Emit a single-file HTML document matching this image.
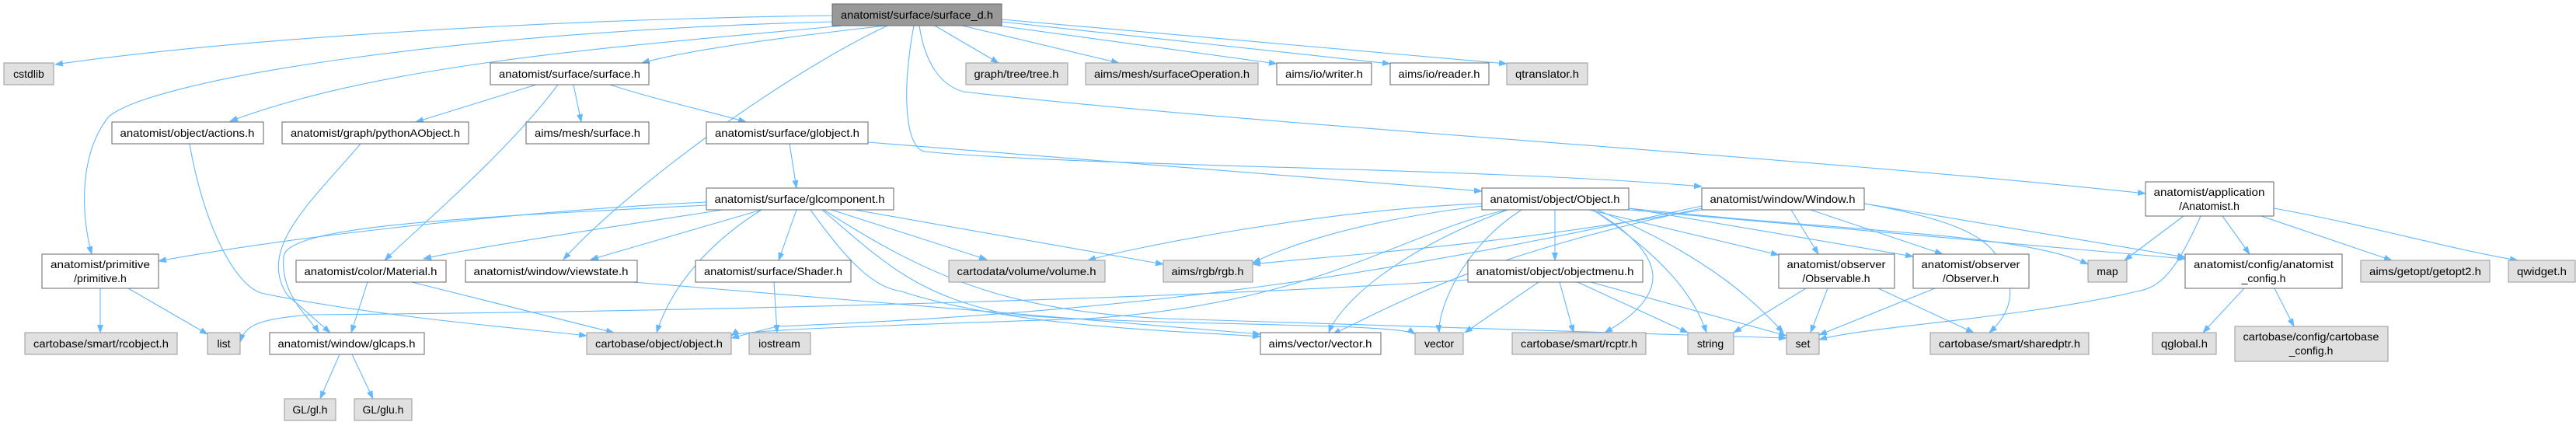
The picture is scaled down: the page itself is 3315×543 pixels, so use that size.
<!DOCTYPE html>
<html><head><meta charset="utf-8"><style>
html,body{margin:0;padding:0;background:#fff;}
svg{display:block;}
text{font-family:"Liberation Sans",sans-serif;font-size:14px;fill:#000;text-anchor:middle;}
.w{fill:#fff;stroke:#666;stroke-width:1;}
.g{fill:#e0e0e0;stroke:#999;stroke-width:1;}
.r{fill:#999;stroke:#666;stroke-width:1;}
path.e{fill:none;stroke:#63b8ff;stroke-width:1.1;marker-end:url(#a);}
</style></head><body>
<svg width="3315" height="543" viewBox="0 0 3315 543" xmlns="http://www.w3.org/2000/svg">
<defs><marker id="a" markerUnits="userSpaceOnUse" markerWidth="11" markerHeight="8" refX="10" refY="4" orient="auto"><path d="M0,0 L11,4 L0,8 z" fill="#63b8ff"/></marker></defs>
<g>
<path class="e" d="M1071,20 C700,25 300,50 71,83"/>
<path class="e" d="M1071,28 C600,40 200,100 140,150 C100,200 105,280 118,327"/>
<path class="e" d="M1085,33 C800,60 500,80 296,156"/>
<path class="e" d="M1140,33 Q900,60 826,81"/>
<path class="e" d="M1142,33 C1000,100 800,250 725,334"/>
<path class="e" d="M1203,33 L1285,81"/>
<path class="e" d="M1238,33 L1440,81"/>
<path class="e" d="M1285,33 L1643,82"/>
<path class="e" d="M1289,28 L1789,82"/>
<path class="e" d="M1289,25 L1939,82"/>
<path class="e" d="M1176,33 C1160,120 1165,190 1190,195 C1400,215 1900,215 2190,240"/>
<path class="e" d="M1183,33 C1190,80 1210,110 1240,118 C1600,160 2300,200 2761,249"/>
<path class="e" d="M1117,183 L1907,246"/>
<path class="e" d="M785,109 C850,130 920,145 960,157"/>
<path class="e" d="M690,109 L535,157"/>
<path class="e" d="M738,109 L748,157"/>
<path class="e" d="M718,109 C650,200 530,300 495,335"/>
<path class="e" d="M244,185 C260,280 300,370 340,378 C500,410 700,425 755,432"/>
<path class="e" d="M464,185 C400,260 330,320 370,380 L425,428"/>
<path class="e" d="M1016,185 L1025,242"/>
<path class="e" d="M909,260 C700,270 400,300 204,336"/>
<path class="e" d="M930,270 C800,290 600,320 545,333"/>
<path class="e" d="M980,270 L760,334"/>
<path class="e" d="M909,264 C600,280 370,290 365,330 C360,380 400,410 410,428"/>
<path class="e" d="M980,270 C900,320 860,380 845,428"/>
<path class="e" d="M1025,270 L1002,335"/>
<path class="e" d="M1070,270 L1270,334"/>
<path class="e" d="M1100,270 L1497,340"/>
<path class="e" d="M1043,270 C1100,350 1130,370 1160,375 C1300,420 1500,425 1622,433"/>
<path class="e" d="M1058,270 C1140,340 1180,380 1300,405 C1500,420 1800,415 1821,430"/>
<path class="e" d="M1060,270 C1200,360 1300,400 1500,410 L2299,435"/>
<path class="e" d="M473,363 L452,428"/>
<path class="e" d="M530,363 L790,428"/>
<path class="e" d="M815,363 C1000,380 1400,410 1622,430"/>
<path class="e" d="M129,371 L129,428"/>
<path class="e" d="M165,371 L267,430"/>
<path class="e" d="M437,456 L412,513"/>
<path class="e" d="M453,456 L480,513"/>
<path class="e" d="M996,363 L1000,428"/>
<path class="e" d="M2001,270 L2001,335"/>
<path class="e" d="M1907,262 C1700,270 1450,320 1400,335"/>
<path class="e" d="M1907,265 C1700,290 1620,335 1612,338"/>
<path class="e" d="M1940,270 C1800,300 1700,390 1400,410 C1100,420 950,425 941,432"/>
<path class="e" d="M1940,270 C1780,330 1720,400 1710,428"/>
<path class="e" d="M1958,270 C1880,320 1850,400 1852,428"/>
<path class="e" d="M2050,270 C2150,330 2150,380 2065,428"/>
<path class="e" d="M2050,270 C2140,330 2180,380 2196,428"/>
<path class="e" d="M2055,270 C2200,330 2260,390 2295,428"/>
<path class="e" d="M2045,270 L2289,328"/>
<path class="e" d="M2096,268 L2462,330"/>
<path class="e" d="M2096,270 L2812,333"/>
<path class="e" d="M2096,268 C2400,300 2600,300 2687,340"/>
<path class="e" d="M1889,360 C1600,380 1000,400 400,405 C330,410 315,420 309,440"/>
<path class="e" d="M2305,270 L2340,327"/>
<path class="e" d="M2330,270 L2500,327"/>
<path class="e" d="M2190,268 C1900,330 1800,390 1715,430"/>
<path class="e" d="M2190,265 C1800,350 1500,400 1000,420 L941,435"/>
<path class="e" d="M2190,270 C1900,320 1700,330 1612,340"/>
<path class="e" d="M2399,262 C2500,280 2560,300 2575,340 C2600,380 2580,410 2560,428"/>
<path class="e" d="M2399,262 L2812,331"/>
<path class="e" d="M1980,363 L1885,428"/>
<path class="e" d="M2007,363 L2025,428"/>
<path class="e" d="M2030,363 L2172,428"/>
<path class="e" d="M2047,363 L2299,432"/>
<path class="e" d="M2324,371 L2231,428"/>
<path class="e" d="M2352,371 L2330,428"/>
<path class="e" d="M2417,371 L2540,428"/>
<path class="e" d="M2490,371 L2341,431"/>
<path class="e" d="M2810,278 L2734,335"/>
<path class="e" d="M2860,278 L2895,327"/>
<path class="e" d="M2910,278 L3078,335"/>
<path class="e" d="M2926,268 C3050,290 3150,320 3240,335"/>
<path class="e" d="M2832,278 C2800,350 2780,370 2750,375 C2600,410 2400,420 2341,437"/>
<path class="e" d="M2888,371 L2835,428"/>
<path class="e" d="M2927,371 L2952,420"/>
</g>
<g>
<rect class="r" x="1071" y="5" width="218" height="28"/><text x="1180" y="24" textLength="196" lengthAdjust="spacingAndGlyphs">anatomist/surface/surface_d.h</text>
<rect class="g" x="5" y="81" width="64" height="28"/><text x="37" y="100">cstdlib</text>
<rect class="w" x="631" y="81" width="204" height="28"/><text x="733" y="100" textLength="182" lengthAdjust="spacingAndGlyphs">anatomist/surface/surface.h</text>
<rect class="g" x="1243" y="81" width="131" height="28"/><text x="1308" y="100" textLength="109" lengthAdjust="spacingAndGlyphs">graph/tree/tree.h</text>
<rect class="g" x="1397" y="81" width="222" height="28"/><text x="1508" y="100" textLength="200" lengthAdjust="spacingAndGlyphs">aims/mesh/surfaceOperation.h</text>
<rect class="w" x="1643" y="81" width="122" height="28"/><text x="1704" y="100" textLength="100" lengthAdjust="spacingAndGlyphs">aims/io/writer.h</text>
<rect class="w" x="1789" y="81" width="127" height="28"/><text x="1852" y="100" textLength="105" lengthAdjust="spacingAndGlyphs">aims/io/reader.h</text>
<rect class="g" x="1939" y="81" width="104" height="28"/><text x="1991" y="100" textLength="82" lengthAdjust="spacingAndGlyphs">qtranslator.h</text>
<rect class="w" x="144" y="157" width="195" height="28"/><text x="241" y="176" textLength="173" lengthAdjust="spacingAndGlyphs">anatomist/object/actions.h</text>
<rect class="w" x="363" y="157" width="240" height="28"/><text x="483" y="176" textLength="218" lengthAdjust="spacingAndGlyphs">anatomist/graph/pythonAObject.h</text>
<rect class="w" x="677" y="157" width="158" height="28"/><text x="756" y="176" textLength="136" lengthAdjust="spacingAndGlyphs">aims/mesh/surface.h</text>
<rect class="w" x="909" y="157" width="208" height="28"/><text x="1013" y="176" textLength="186" lengthAdjust="spacingAndGlyphs">anatomist/surface/globject.h</text>
<rect class="w" x="909" y="242" width="241" height="28"/><text x="1029" y="261" textLength="219" lengthAdjust="spacingAndGlyphs">anatomist/surface/glcomponent.h</text>
<rect class="w" x="1907" y="242" width="189" height="28"/><text x="2001" y="261" textLength="167" lengthAdjust="spacingAndGlyphs">anatomist/object/Object.h</text>
<rect class="w" x="2190" y="242" width="209" height="28"/><text x="2294" y="261" textLength="187" lengthAdjust="spacingAndGlyphs">anatomist/window/Window.h</text>
<rect class="w" x="2761" y="234" width="165" height="44"/><text x="2843" y="252" textLength="143" lengthAdjust="spacingAndGlyphs">anatomist/application</text><text x="2843" y="270">/Anatomist.h</text>
<rect class="w" x="54" y="327" width="150" height="44"/><text x="129" y="345" textLength="128" lengthAdjust="spacingAndGlyphs">anatomist/primitive</text><text x="129" y="363">/primitive.h</text>
<rect class="w" x="381" y="335" width="193" height="28"/><text x="477" y="354" textLength="171" lengthAdjust="spacingAndGlyphs">anatomist/color/Material.h</text>
<rect class="w" x="599" y="335" width="221" height="28"/><text x="709" y="354" textLength="199" lengthAdjust="spacingAndGlyphs">anatomist/window/viewstate.h</text>
<rect class="w" x="895" y="335" width="200" height="28"/><text x="995" y="354" textLength="178" lengthAdjust="spacingAndGlyphs">anatomist/surface/Shader.h</text>
<rect class="g" x="1221" y="335" width="201" height="28"/><text x="1321" y="354" textLength="179" lengthAdjust="spacingAndGlyphs">cartodata/volume/volume.h</text>
<rect class="g" x="1497" y="335" width="115" height="28"/><text x="1554" y="354" textLength="93" lengthAdjust="spacingAndGlyphs">aims/rgb/rgb.h</text>
<rect class="w" x="1889" y="335" width="225" height="28"/><text x="2001" y="354" textLength="203" lengthAdjust="spacingAndGlyphs">anatomist/object/objectmenu.h</text>
<rect class="w" x="2289" y="327" width="149" height="44"/><text x="2363" y="345" textLength="127" lengthAdjust="spacingAndGlyphs">anatomist/observer</text><text x="2363" y="363">/Observable.h</text>
<rect class="w" x="2462" y="327" width="149" height="44"/><text x="2536" y="345" textLength="127" lengthAdjust="spacingAndGlyphs">anatomist/observer</text><text x="2536" y="363">/Observer.h</text>
<rect class="g" x="2687" y="335" width="50" height="28"/><text x="2712" y="354">map</text>
<rect class="w" x="2812" y="327" width="202" height="44"/><text x="2913" y="345" textLength="180" lengthAdjust="spacingAndGlyphs">anatomist/config/anatomist</text><text x="2913" y="363">_config.h</text>
<rect class="g" x="3038" y="335" width="166" height="28"/><text x="3121" y="354" textLength="144" lengthAdjust="spacingAndGlyphs">aims/getopt/getopt2.h</text>
<rect class="g" x="3228" y="335" width="86" height="28"/><text x="3271" y="354" textLength="64" lengthAdjust="spacingAndGlyphs">qwidget.h</text>
<rect class="g" x="32" y="428" width="196" height="28"/><text x="130" y="447" textLength="174" lengthAdjust="spacingAndGlyphs">cartobase/smart/rcobject.h</text>
<rect class="g" x="267" y="428" width="42" height="28"/><text x="288" y="447">list</text>
<rect class="w" x="347" y="428" width="199" height="28"/><text x="446" y="447" textLength="177" lengthAdjust="spacingAndGlyphs">anatomist/window/glcaps.h</text>
<rect class="g" x="755" y="428" width="186" height="28"/><text x="848" y="447" textLength="164" lengthAdjust="spacingAndGlyphs">cartobase/object/object.h</text>
<rect class="g" x="964" y="428" width="79" height="28"/><text x="1003" y="447">iostream</text>
<rect class="w" x="1622" y="428" width="155" height="28"/><text x="1699" y="447" textLength="133" lengthAdjust="spacingAndGlyphs">aims/vector/vector.h</text>
<rect class="g" x="1821" y="428" width="62" height="28"/><text x="1852" y="447">vector</text>
<rect class="g" x="1946" y="428" width="172" height="28"/><text x="2032" y="447" textLength="150" lengthAdjust="spacingAndGlyphs">cartobase/smart/rcptr.h</text>
<rect class="g" x="2172" y="428" width="59" height="28"/><text x="2201" y="447">string</text>
<rect class="g" x="2299" y="428" width="42" height="28"/><text x="2320" y="447">set</text>
<rect class="g" x="2484" y="428" width="204" height="28"/><text x="2586" y="447" textLength="182" lengthAdjust="spacingAndGlyphs">cartobase/smart/sharedptr.h</text>
<rect class="g" x="2770" y="428" width="82" height="28"/><text x="2811" y="447" textLength="60" lengthAdjust="spacingAndGlyphs">qglobal.h</text>
<rect class="g" x="2876" y="420" width="197" height="45"/><text x="2974" y="438" textLength="175" lengthAdjust="spacingAndGlyphs">cartobase/config/cartobase</text><text x="2974" y="456">_config.h</text>
<rect class="g" x="366" y="513" width="66" height="28"/><text x="399" y="532">GL/gl.h</text>
<rect class="g" x="456" y="513" width="74" height="28"/><text x="493" y="532">GL/glu.h</text>
</g>
</svg>
</body></html>
